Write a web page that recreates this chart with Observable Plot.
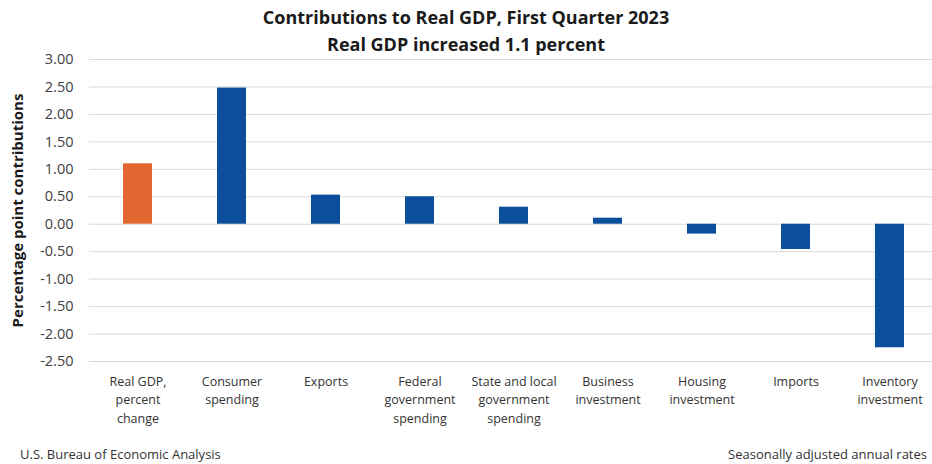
<!DOCTYPE html>
<html>
<head>
<meta charset="utf-8">
<script src="https://cdn.jsdelivr.net/npm/d3@7"></script>
<script src="https://cdn.jsdelivr.net/npm/@observablehq/plot@0.6"></script>
<style>
  html, body { margin: 0; padding: 0; background: #fff; }
  body { width: 932px; height: 464px; position: relative; overflow: hidden; font-family: "Open Sans", sans-serif; }
  #title { position: absolute; top: 4px; left: 0; width: 932px; text-align: center; font-weight: bold; font-size: 18px; line-height: 27px; color: #1a1a1a; }
  #chart { position: absolute; top: 46px; left: 0; }
  #src { position: absolute; top: 445px; left: 20px; font-size: 13px; color: #333; }
  #note { position: absolute; top: 445px; right: 5px; font-size: 13px; color: #333; }
</style>
</head>
<body>
<div id="title">Contributions to Real GDP, First Quarter 2023<br>Real GDP increased 1.1 percent</div>
<div id="chart"></div>
<div id="src">U.S. Bureau of Economic Analysis</div>
<div id="note">Seasonally adjusted annual rates</div>
<script>
const categories = ["Real GDP", "Consumer spending", "Exports", "Federal government spending", "State and local government spending", "Business investment", "Housing investment", "Imports", "Inventory investment"];
const tickLabels = ["Real GDP,\npercent\nchange", "Consumer\nspending", "Exports", "Federal\ngovernment\nspending", "State and local\ngovernment\nspending", "Business\ninvestment", "Housing\ninvestment", "Imports", "Inventory\ninvestment"];
const values = [1.10, 2.48, 0.53, 0.50, 0.31, 0.11, -0.18, -0.46, -2.25];
const kinds = ["total", "component", "component", "component", "component", "component", "component", "component", "component"];
const yTicks = [3.0, 2.5, 2.0, 1.5, 1.0, 0.5, 0.0, -0.5, -1.0, -1.5, -2.0, -2.5];
const yLabel = "Percentage point contributions";

const data = categories.map((c, i) => ({category: c, value: values[i], kind: kinds[i]}));
const labelOf = new Map(categories.map((c, i) => [c, tickLabels[i]]));

const chart = Plot.plot({
  width: 932,
  height: 390,
  marginLeft: 89,
  marginRight: -6,
  marginTop: 13,
  marginBottom: 75,
  style: {fontFamily: "Open Sans, sans-serif", background: "transparent"},
  x: {domain: categories, paddingInner: 0.69, paddingOuter: 0.345, axis: null},
  y: {domain: [-2.5, 3.0], axis: null},
  color: {domain: ["total", "component"], range: ["#E2662F", "#0B4F9C"]},
  marks: [
    Plot.ruleY(yTicks, {stroke: "#d9d9d9", strokeWidth: 1}),
    Plot.barY(data, {x: "category", y: "value", fill: "kind"}),
    Plot.axisY(yTicks, {tickSize: 0, tickPadding: 16, tickFormat: d => d.toFixed(2), fontSize: 14.5, fill: "#404040", label: null}),
    Plot.axisX(categories, {tickSize: 0, tickPadding: 12, tickFormat: d => labelOf.get(d), fontSize: 12.5, lineHeight: 1.45, fill: "#333", label: null}),
    Plot.text([yLabel], {frameAnchor: "left", textAnchor: "middle", rotate: -90, dx: -71, fontSize: 15, fontWeight: "bold", fill: "#1a1a1a"})
  ]
});
document.getElementById("chart").appendChild(chart);
</script>
</body>
</html>
